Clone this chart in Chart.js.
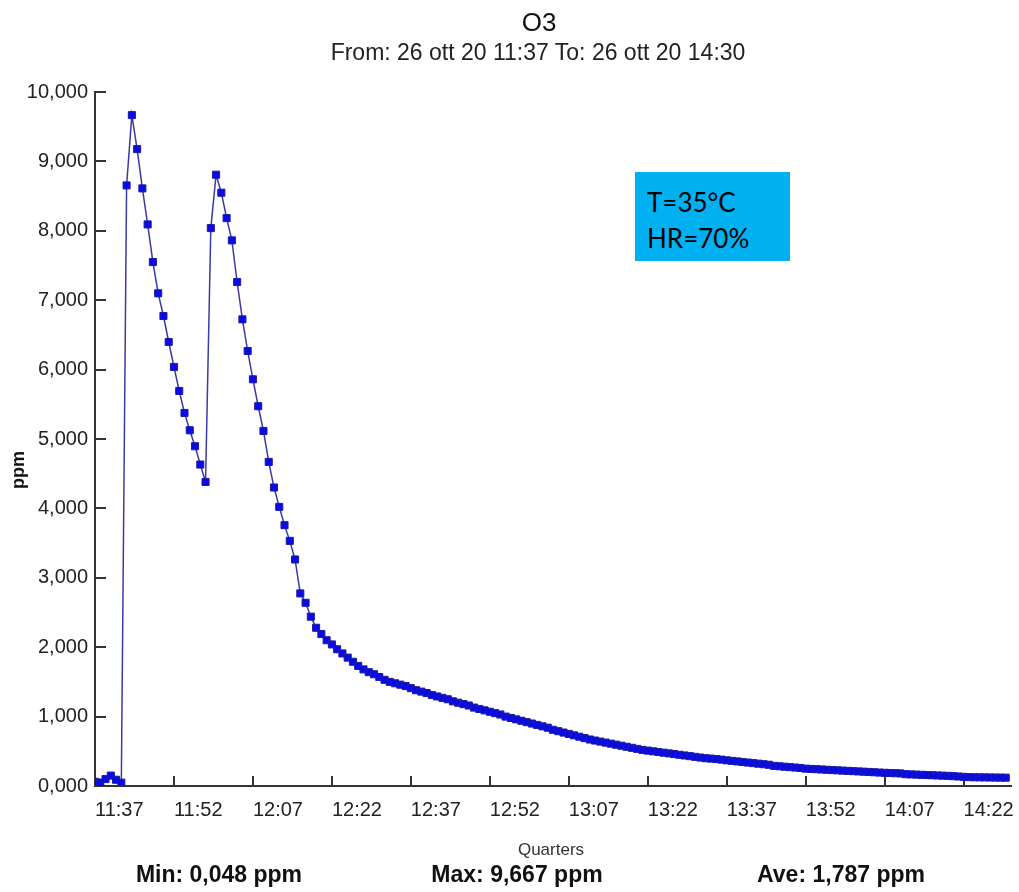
<!DOCTYPE html>
<html>
<head>
<meta charset="utf-8">
<script src="https://cdn.jsdelivr.net/npm/chart.js@4.4.0/dist/chart.umd.min.js"></script>
<style>
  body { margin: 0; background: #fff; }
  #wrap { position: relative; width: 1019px; height: 892px; font-family: 'Liberation Sans', Arial, sans-serif; color: #111; }
  #wrap canvas { position: absolute; left: 0; top: 0; }
  .lbl { position: absolute; white-space: nowrap; transform: translate(-50%, -50%); line-height: 1; }
  .title { left: 539px; top: 22px; font-size: 26px; }
  .subtitle { left: 538px; top: 52px; font-size: 23px; color: #222; }
  .ylab { left: 18px; top: 470px; font-size: 18px; font-weight: bold; transform: translate(-50%, -50%) rotate(-90deg); }
  .xlab { left: 551px; top: 849px; font-size: 17px; color: #333; }
  .stat { top: 874px; font-size: 23px; font-weight: bold; }
  .note { position: absolute; left: 635px; top: 172px; width: 155px; height: 89px; background: #00b0f0;
          font-family: Lato, 'Open Sans', sans-serif; font-size: 26px; line-height: 36px; color: #000;
          box-sizing: border-box; padding: 12px 0 0 12px; }
</style>
</head>
<body>
<div id="wrap">
  <canvas id="o3Chart" width="1019" height="892"></canvas>
  <div class="lbl title">O3</div>
  <div class="lbl subtitle">From: 26 ott 20 11:37 To: 26 ott 20 14:30</div>
  <div class="lbl ylab">ppm</div>
  <div class="lbl xlab">Quarters</div>
  <div class="lbl stat" style="left:219px">Min: 0,048 ppm</div>
  <div class="lbl stat" style="left:517px">Max: 9,667 ppm</div>
  <div class="lbl stat" style="left:841px">Ave: 1,787 ppm</div>
  <div class="note">T=35°C<br>HR=70%</div>
</div>
<script>
// one reading per minute starting 11:37 (ppm)
const o3ppm = [
    0.060, 0.050, 0.100, 0.150, 0.090, 0.048, 8.654, 9.667, 9.177, 8.611,
    8.092, 7.550, 7.099, 6.772, 6.398, 6.038, 5.692, 5.375, 5.126, 4.896,
    4.632, 4.381, 8.039, 8.808, 8.549, 8.183, 7.862, 7.262, 6.724, 6.268,
    5.860, 5.472, 5.116, 4.670, 4.301, 4.022, 3.758, 3.532, 3.264, 2.775,
    2.640, 2.440, 2.280, 2.190, 2.100, 2.040, 1.970, 1.910, 1.850, 1.790,
    1.730, 1.680, 1.640, 1.610, 1.570, 1.530, 1.500, 1.480, 1.460, 1.440,
    1.410, 1.380, 1.360, 1.340, 1.310, 1.290, 1.270, 1.250, 1.220, 1.200,
    1.180, 1.160, 1.130, 1.110, 1.090, 1.070, 1.050, 1.030, 1.000, 0.980,
    0.960, 0.940, 0.920, 0.900, 0.880, 0.860, 0.840, 0.810, 0.790, 0.770,
    0.750, 0.730, 0.710, 0.690, 0.670, 0.655, 0.640, 0.625, 0.610, 0.595,
    0.580, 0.565, 0.550, 0.535, 0.520, 0.510, 0.500, 0.490, 0.480, 0.470,
    0.460, 0.450, 0.440, 0.430, 0.420, 0.410, 0.400, 0.395, 0.388, 0.380,
    0.370, 0.362, 0.354, 0.346, 0.338, 0.330, 0.322, 0.314, 0.306, 0.290,
    0.284, 0.278, 0.272, 0.266, 0.260, 0.250, 0.246, 0.242, 0.238, 0.234,
    0.230, 0.226, 0.222, 0.218, 0.214, 0.210, 0.206, 0.202, 0.198, 0.194,
    0.190, 0.187, 0.184, 0.181, 0.170, 0.167, 0.164, 0.161, 0.158, 0.155,
    0.152, 0.149, 0.146, 0.142, 0.137, 0.132, 0.128, 0.126, 0.125, 0.124,
    0.123, 0.122, 0.121, 0.120
];

// quarter ticks, minutes after 11:37
const tickMinutes = [0, 15, 30, 45, 60, 75, 90, 105, 120, 135, 150, 165];
const tickLabels = ['11:37', '11:52', '12:07', '12:22', '12:37', '12:52', '13:07', '13:22', '13:37', '13:52', '14:07', '14:22'];
const yTickValues = [0, 1, 2, 3, 4, 5, 6, 7, 8, 9, 10];
const axisEndMinute = 174; // axis runs a little past the last reading

const axisColor = '#333';

// tick marks point inside the plot, like the original software
const inwardTicks = {
    id: 'inwardTicks',
    beforeDatasetsDraw(chart) {
        const { ctx, chartArea, scales } = chart;
        ctx.save();
        ctx.strokeStyle = axisColor;
        ctx.lineWidth = 2;
        ctx.beginPath();
        tickMinutes.slice(1).forEach(m => {
            const px = Math.round(scales.x.getPixelForValue(m));
            ctx.moveTo(px, chartArea.bottom);
            ctx.lineTo(px, chartArea.bottom - 10);
        });
        yTickValues.slice(1).forEach(v => {
            const py = Math.round(scales.y.getPixelForValue(v));
            ctx.moveTo(chartArea.left, py);
            ctx.lineTo(chartArea.left + 11, py);
        });
        ctx.stroke();
        ctx.restore();
    }
};

const tickFont = { family: "'Liberation Sans', Arial, sans-serif", size: 20 };

new Chart(document.getElementById('o3Chart'), {
    type: 'line',
    data: {
        datasets: [{
            data: o3ppm.map((v, i) => ({ x: i, y: v })),
            borderColor: '#3a3aa6',
            borderWidth: 1.5,
            tension: 0,
            pointStyle: 'rect',
            pointRadius: 5,
            pointBackgroundColor: '#0a0ae8',
            pointBorderColor: '#1c1ca0',
            pointBorderWidth: 1
        }]
    },
    options: {
        responsive: false,
        animation: false,
        devicePixelRatio: 1,
        layout: { padding: { top: 92, right: 8, left: 0, bottom: 0 } },
        plugins: {
            legend: { display: false },
            tooltip: { enabled: false }
        },
        scales: {
            x: {
                type: 'linear',
                min: 0,
                max: axisEndMinute,
                afterFit: s => { s.height = 106; s.paddingLeft = 0; s.paddingRight = 0; },
                afterBuildTicks: s => { s.ticks = tickMinutes.map(v => ({ value: v })); },
                grid: { display: false, drawTicks: false },
                border: { display: true, color: axisColor, width: 2 },
                ticks: {
                    autoSkip: false,
                    maxRotation: 0,
                    align: 'start',
                    padding: 12,
                    color: '#222',
                    font: tickFont,
                    callback: v => tickLabels[tickMinutes.indexOf(v)]
                }
            },
            y: {
                min: 0,
                max: 10,
                afterFit: s => { s.width = 95; },
                afterBuildTicks: s => { s.ticks = yTickValues.map(v => ({ value: v })); },
                grid: { display: false, drawTicks: false },
                border: { display: true, color: axisColor, width: 2 },
                ticks: {
                    padding: 7,
                    color: '#222',
                    font: tickFont,
                    callback: v => v.toFixed(3).replace('.', ',')
                }
            }
        }
    },
    plugins: [inwardTicks]
});
</script>
</body>
</html>
